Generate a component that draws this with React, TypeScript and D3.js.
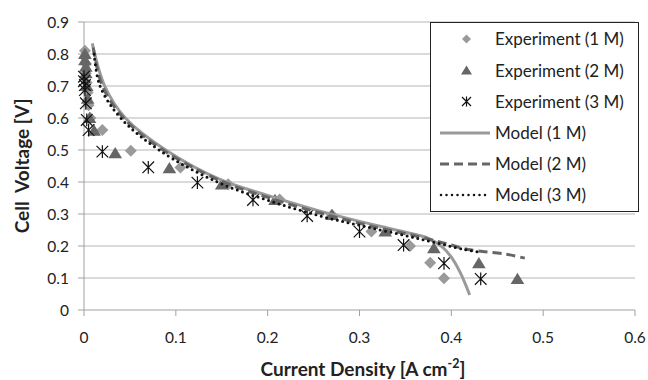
import React from "react";
import * as d3 from "d3";

// ---- data ----
const exp1X = [0.001, 0.001, 0.002, 0.002, 0.003, 0.004, 0.005, 0.007, 0.02, 0.051, 0.105, 0.157, 0.213, 0.27, 0.313, 0.355, 0.377, 0.392];
const exp1Y = [0.81, 0.79, 0.77, 0.74, 0.71, 0.68, 0.64, 0.6, 0.5625, 0.498, 0.445, 0.393, 0.345, 0.297, 0.245, 0.2, 0.148, 0.099];

const exp2X = [0.001, 0.001, 0.002, 0.002, 0.003, 0.004, 0.006, 0.011, 0.034, 0.093, 0.15, 0.208, 0.27, 0.328, 0.381, 0.43, 0.472];
const exp2Y = [0.8, 0.78, 0.76, 0.74, 0.7, 0.66, 0.6, 0.56, 0.49, 0.443, 0.392, 0.344, 0.297, 0.245, 0.193, 0.146, 0.097];

const exp3X = [0.0, 0.0, 0.001, 0.001, 0.002, 0.003, 0.005, 0.02, 0.07, 0.1235, 0.184, 0.243, 0.3, 0.348, 0.392, 0.432];
const exp3Y = [0.729, 0.715, 0.703, 0.6875, 0.646, 0.594, 0.5625, 0.495, 0.446, 0.398, 0.344, 0.294, 0.245, 0.203, 0.146, 0.097];

const model1X = [0.009, 0.0225, 0.045, 0.089, 0.148, 0.2, 0.257, 0.3, 0.35, 0.375, 0.39, 0.4, 0.41, 0.42];
const model1Y = [0.833, 0.7, 0.6, 0.5, 0.408, 0.358, 0.309, 0.277, 0.243, 0.224, 0.197, 0.165, 0.115, 0.047];

const model2X = [0.01, 0.02, 0.043, 0.086, 0.15, 0.2, 0.257, 0.31, 0.366, 0.4, 0.417, 0.46, 0.48];
const model2Y = [0.82, 0.7, 0.6, 0.5, 0.402, 0.352, 0.303, 0.264, 0.228, 0.203, 0.19, 0.174, 0.162];

const model3X = [0.011, 0.0174, 0.04, 0.0817, 0.145, 0.2, 0.257, 0.312, 0.366, 0.413, 0.433];
const model3Y = [0.8, 0.7, 0.6, 0.5, 0.4, 0.343, 0.294, 0.257, 0.222, 0.19, 0.18];

const xTicks = [0, 0.1, 0.2, 0.3, 0.4, 0.5, 0.6];
const yTicks = [0, 0.1, 0.2, 0.3, 0.4, 0.5, 0.6, 0.7, 0.8, 0.9];

const legendLabels = [
  "Experiment (1 M)",
  "Experiment (2 M)",
  "Experiment (3 M)",
  "Model (1 M)",
  "Model (2 M)",
  "Model (3 M)",
];

const FONT = "Lato, 'Open Sans', sans-serif";

const zip = (xs: number[], ys: number[]) => xs.map((x, i) => [x, ys[i]] as [number, number]);

const diamond = (s: number) => `M0,${-s}L${s},0L0,${s}L${-s},0Z`;
const triangle = (s: number) => `M0,${-s}L${s * 1.1},${s * 0.8}L${-s * 1.1},${s * 0.8}Z`;
const asterisk = (s: number) =>
  `M${-s},${-s}L${s},${s}M${-s},${s}L${s},${-s}M0,${-s * 1.1}L0,${s * 1.1}`;

export default function App() {
  const x = d3.scaleLinear().domain([0, 0.6]).range([84, 635]);
  const y = d3.scaleLinear().domain([0, 0.9]).range([310, 22]);

  const line = d3
    .line<[number, number]>()
    .x((d) => x(d[0]))
    .y((d) => y(d[1]))
    .curve(d3.curveCatmullRom.alpha(0.5));

  const c1 = "#9a9a9a";
  const c2 = "#666666";
  const c3 = "#111111";

  const legendRows = [39, 70.5, 101.5, 133, 164, 195];

  return (
    <svg
      width={648}
      height={380}
      style={{ position: "absolute", left: 0, top: 0, background: "#fff" }}
      fontFamily={FONT}
    >
      <rect x={0} y={0} width={648} height={380} fill="#fff" />
      {/* gridlines */}
      {yTicks.map((t) =>
        t === 0 ? null : (
          <line key={"g" + t} x1={x(0)} x2={x(0.6)} y1={y(t)} y2={y(t)} stroke="#b5b5b5" strokeWidth={1} />
        )
      )}
      {/* axes */}
      <line x1={x(0)} x2={x(0.6)} y1={y(0)} y2={y(0)} stroke="#a0a0a0" strokeWidth={1} />
      <line x1={x(0)} x2={x(0)} y1={y(0)} y2={y(0.9)} stroke="#a0a0a0" strokeWidth={1} />
      {yTicks.map((t) => (
        <g key={"yt" + t}>
          <line x1={x(0) - 6} x2={x(0)} y1={y(t)} y2={y(t)} stroke="#a0a0a0" />
          <text x={69} y={y(t)} dy="0.36em" textAnchor="end" fontSize={15.5} fill="#222">
            {d3.format("")(t)}
          </text>
        </g>
      ))}
      {xTicks.map((t) => (
        <g key={"xt" + t}>
          <line x1={x(t)} x2={x(t)} y1={y(0)} y2={y(0) + 6} stroke="#a0a0a0" />
          <text x={x(t)} y={342.5} textAnchor="middle" fontSize={15.5} fill="#222">
            {d3.format("")(t)}
          </text>
        </g>
      ))}
      {/* axis titles */}
      <text x={363} y={376} textAnchor="middle" fontSize={19} fontWeight="bold" fill="#222">
        Current Density [A cm
        <tspan dy={-8} fontSize={12.5}>-2</tspan>
        <tspan dy={8}>]</tspan>
      </text>
      <text
        transform={`translate(29,${(y(0) + y(0.9)) / 2}) rotate(-90)`}
        textAnchor="middle"
        fontSize={19}
        fontWeight="bold"
        fill="#222"
        style={{ whiteSpace: "pre" }}
      >
        {"Cell  Voltage [V]"}
      </text>

      {/* experiment markers */}
      {zip(exp1X, exp1Y).map((d, i) => (
        <path key={"e1" + i} d={diamond(6)} transform={`translate(${x(d[0])},${y(d[1])})`} fill={c1} />
      ))}
      {zip(exp2X, exp2Y).map((d, i) => (
        <path key={"e2" + i} d={triangle(6.2)} transform={`translate(${x(d[0])},${y(d[1])})`} fill={c2} />
      ))}
      {zip(exp3X, exp3Y).map((d, i) => (
        <path
          key={"e3" + i}
          d={asterisk(5.8)}
          transform={`translate(${x(d[0])},${y(d[1])})`}
          fill="none"
          stroke={c3}
          strokeWidth={1.2}
        />
      ))}

      {/* model lines */}
      <path d={line(zip(model1X, model1Y)) || ""} fill="none" stroke={c1} strokeWidth={3} />
      <path
        d={line(zip(model2X, model2Y)) || ""}
        fill="none"
        stroke={c2}
        strokeWidth={3}
        strokeDasharray="9,5"
      />
      <path
        d={line(zip(model3X, model3Y)) || ""}
        fill="none"
        stroke={c3}
        strokeWidth={3}
        strokeDasharray="0,5.5"
        strokeLinecap="round"
      />

      {/* legend */}
      <rect x={430.5} y={22.5} width={208} height={189} fill="#fff" stroke="#222" strokeWidth={1} />
      <path d={diamond(4.5)} transform={`translate(466.5,${legendRows[0]})`} fill={c1} />
      <path d={triangle(5)} transform={`translate(466.5,${legendRows[1]})`} fill={c2} />
      <path d={asterisk(4.5)} transform={`translate(466.5,${legendRows[2]})`} fill="none" stroke={c3} strokeWidth={1.2} />
      <line x1={440} x2={490} y1={legendRows[3]} y2={legendRows[3]} stroke={c1} strokeWidth={3} />
      <line x1={440} x2={490} y1={legendRows[4]} y2={legendRows[4]} stroke={c2} strokeWidth={3} strokeDasharray="9,5" />
      <line
        x1={441}
        x2={490}
        y1={legendRows[5]}
        y2={legendRows[5]}
        stroke={c3}
        strokeWidth={2.5}
        strokeDasharray="0,5.5"
        strokeLinecap="round"
      />
      {legendLabels.map((l, i) => (
        <text key={l} x={495} y={legendRows[i]} dy="0.36em" fontSize={17} fill="#222">
          {l}
        </text>
      ))}
    </svg>
  );
}
